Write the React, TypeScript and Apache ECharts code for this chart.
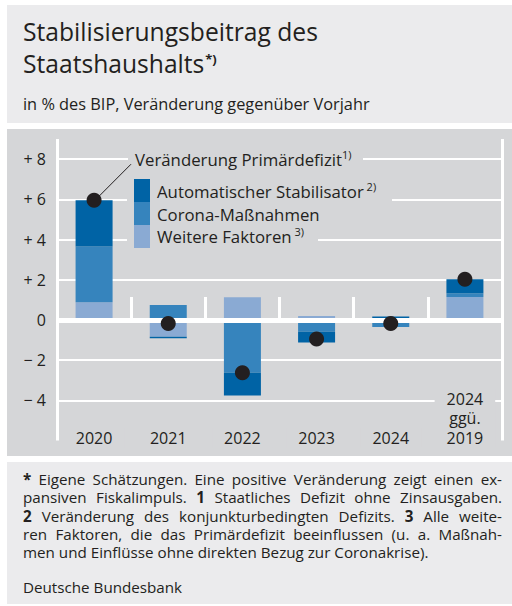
import React, { useEffect, useRef } from "react";
import * as echarts from "echarts";

const categories = ["2020", "2021", "2022", "2023", "2024", "2024\nggü.\n2019"];
const weitereFaktoren = [0.88, -0.83, 1.13, 0.2, 0, 1.15];
const coronaMassnahmen = [2.78, 0.75, -2.62, -0.58, -0.35, 0.18];
const automatischerStabilisator = [2.3, -0.08, -1.13, -0.54, 0.18, 0.7];
const primaerdefizit = [5.96, -0.17, -2.62, -0.95, -0.17, 2.03];
const yTicks = [-4, -2, 0, 2, 4, 6, 8];

const titleLines = ["Stabilisierungsbeitrag des", "Staatshaushalts"];
const subtitle = "in % des BIP, Veränderung gegenüber Vorjahr";
// justified lines (all but the last of the paragraph)
const footerJustified = [
  "{b|*} Eigene Schätzungen. Eine positive Veränderung zeigt einen ex-",
  "pansiven Fiskalimpuls. {b|1} Staatliches Defizit ohne Zinsausgaben.",
  "{b|2} Veränderung des konjunkturbedingten Defizits. {b|3} Alle weite-",
  "ren Faktoren, die das Primärdefizit beeinflussen (u. a. Maßnah-",
];
const footerLast = "men und Einflüsse ohne direkten Bezug zur Coronakrise).";
const source = "Deutsche Bundesbank";

const DARK = "#0063a5";
const MID = "#3684bd";
const LIGHT = "#8aaad3";
const INK = "#231f20";
const PANEL = "#ebebed";
const CHARTBG = "#d5d6d8";
const FONT = "'Open Sans', sans-serif";

export default function App() {
  const ref = useRef<HTMLDivElement>(null);
  useEffect(() => {
    document.body.style.margin = "0";
    const chart = echarts.init(ref.current!, null, { renderer: "svg" });
    const fmt = (v: number) =>
      yTicks.includes(v) ? (v > 0 ? `+ ${v}` : v < 0 ? `\u2212 ${-v}` : "0") : "";
    chart.setOption({
      animation: false,
      textStyle: { fontFamily: FONT },
      grid: { left: 57, right: 10, top: 139.1, height: 301.5, containLabel: false, outerBoundsMode: "none" },
      xAxis: {
        type: "category",
        data: categories,
        z: 1,
        offset: 3,
        axisLine: { show: false },
        axisTick: { show: true, inside: true, length: 23, interval: 0, lineStyle: { color: "#fff", width: 3 } },
        splitLine: { show: true, interval: (i: number) => i === 5, lineStyle: { color: "#fff", width: 3 } },
        axisLabel: {
          inside: true,
          interval: 0,
          margin: -4,
          color: INK,
          fontSize: 16,
          lineHeight: 19.5,
          fontFamily: FONT,
          backgroundColor: CHARTBG,
          padding: [0, 12, 0, 12],
        },
      },
      yAxis: {
        type: "value",
        min: -6,
        max: 9,
        interval: 2,
        axisLine: { show: false },
        axisTick: { show: false },
        splitLine: { show: true, showMinLine: false, showMaxLine: false, lineStyle: { color: "#fff", width: 2 } },
        axisLabel: { showMinLabel: false, showMaxLabel: false, formatter: fmt, color: INK, fontSize: 16, margin: 11, fontFamily: FONT },
      },
      series: [
        { name: "Weitere Faktoren", type: "bar", stack: "t", barWidth: 37, z: 2, itemStyle: { color: LIGHT }, data: weitereFaktoren },
        { name: "Corona-Maßnahmen", type: "bar", stack: "t", barWidth: 37, z: 2, itemStyle: { color: MID }, data: coronaMassnahmen },
        {
          name: "Automatischer Stabilisator", type: "bar", stack: "t", barWidth: 37, z: 2, itemStyle: { color: DARK }, data: automatischerStabilisator,
          markLine: { silent: true, z: 5, symbol: ["none", "none"], label: { show: false }, lineStyle: { color: "#fff", width: 5, type: "solid" }, data: [{ yAxis: 0 }] },
        },
        { name: "Veränderung Primärdefizit", type: "scatter", z: 10, symbolSize: 15, itemStyle: { color: INK, opacity: 1 }, data: primaerdefizit },
      ],
    });

    const y = (v: number) => chart.convertToPixel({ yAxisIndex: 0 }, v) as number;
    const dot = chart.convertToPixel({ seriesIndex: 3 }, [0, primaerdefizit[0]]) as number[];
    const gap = (v: number, x1: number, x2: number) => ({ type: "rect", z: 1, shape: { x: x1, y: y(v) - 3, width: x2 - x1, height: 6 }, style: { fill: CHARTBG } });
    const text = (x: number, yy: number, t: string, size: number, extra: any = {}) => ({
      type: "text", z: 3, x, y: yy,
      style: { text: t, fill: INK, fontSize: size, fontFamily: FONT, verticalAlign: "middle", ...extra },
    });
    const ctx = document.createElement("canvas").getContext("2d")!;
    const measure = (s: string, size: number, bold = false) => {
      ctx.font = `${bold ? "bold " : ""}${size}px "Open Sans"`;
      return ctx.measureText(s).width;
    };
    const fit = (s: string, w: number) => (100 * w) / measure(s, 100);

    const TS = Math.min(26, fit(titleLines[0], 295));
    const SS = Math.min(16.5, fit(subtitle, 347));
    const LS = 16.8;
    const sup = { sup: { fontSize: 11, verticalAlign: "top", fontFamily: FONT, fill: INK, lineHeight: 21 } };
    const legTop = 179;
    const sw = 23;

    // justified footer
    const FS = 15.2;
    const LH = 18.3;
    const left = 23;
    const right = 502;
    const footerEls: any[] = [];
    footerJustified.forEach((line, i) => {
      const words = line.split(" ").map((w) => {
        const m = w.match(/^\{b\|(.*)\}$/);
        return m ? { t: m[1], bold: true } : { t: w, bold: false };
      });
      const widths = words.map((w) => measure(w.t, FS, w.bold));
      const total = widths.reduce((a, b) => a + b, 0);
      const g = (right - left - total) / (words.length - 1);
      let x = left;
      words.forEach((w, k) => {
        footerEls.push(text(x, 479 + i * LH, w.t, FS, w.bold ? { fontWeight: "bold" } : {}));
        x += widths[k] + g;
      });
    });
    footerEls.push(text(left, 479 + 4 * LH, footerLast, FS));
    footerEls.push(text(left, 587, source, FS));

    chart.setOption({
      graphic: [
        { type: "rect", z: -5, shape: { x: 7, y: 5, width: 505, height: 118 }, style: { fill: PANEL } },
        { type: "rect", z: -5, shape: { x: 7, y: 129, width: 505, height: 327 }, style: { fill: CHARTBG } },
        { type: "rect", z: -5, shape: { x: 7, y: 462, width: 505, height: 142 }, style: { fill: PANEL } },
        text(23, 31, titleLines[0], TS, { lineHeight: 28 }),
        text(23, 63, `${titleLines[1]}{sup|*)}`, TS, { rich: { sup: { fontSize: 13, fontWeight: "bold", verticalAlign: "top", fontFamily: FONT, fill: INK, lineHeight: 16, padding: [3, 0, 0, 1] } }, lineHeight: 28 }),
        text(23, 104, subtitle, SS),
        gap(8, 128, 363),
        gap(6, 127, 392),
        gap(4, 127, 318),
        { type: "rect", z: 2, shape: { x: 134, y: legTop, width: 16, height: sw }, style: { fill: DARK } },
        { type: "rect", z: 2, shape: { x: 134, y: legTop + sw, width: 16, height: sw }, style: { fill: MID } },
        { type: "rect", z: 2, shape: { x: 134, y: legTop + 2 * sw, width: 16, height: sw }, style: { fill: LIGHT } },
        text(135, y(8), "Veränderung Primärdefizit{sup|1)}", LS, { rich: sup, lineHeight: 21 }),
        text(157, 191.5, "Automatischer Stabilisator{sup| 2)}", LS, { rich: sup, lineHeight: 21 }),
        text(157, 214, "Corona-Maßnahmen", LS),
        text(157, 236.5, "Weitere Faktoren{sup| 3)}", LS, { rich: sup, lineHeight: 21 }),
        { type: "line", z: 3, shape: { x1: dot[0] + 4, y1: dot[1] - 3, x2: 131, y2: y(8) + 5 }, style: { stroke: INK, lineWidth: 1 } },
        ...footerEls,
      ],
    });
    return () => chart.dispose();
  }, []);
  return <div ref={ref} style={{ width: 512, height: 606 }} />;
}
